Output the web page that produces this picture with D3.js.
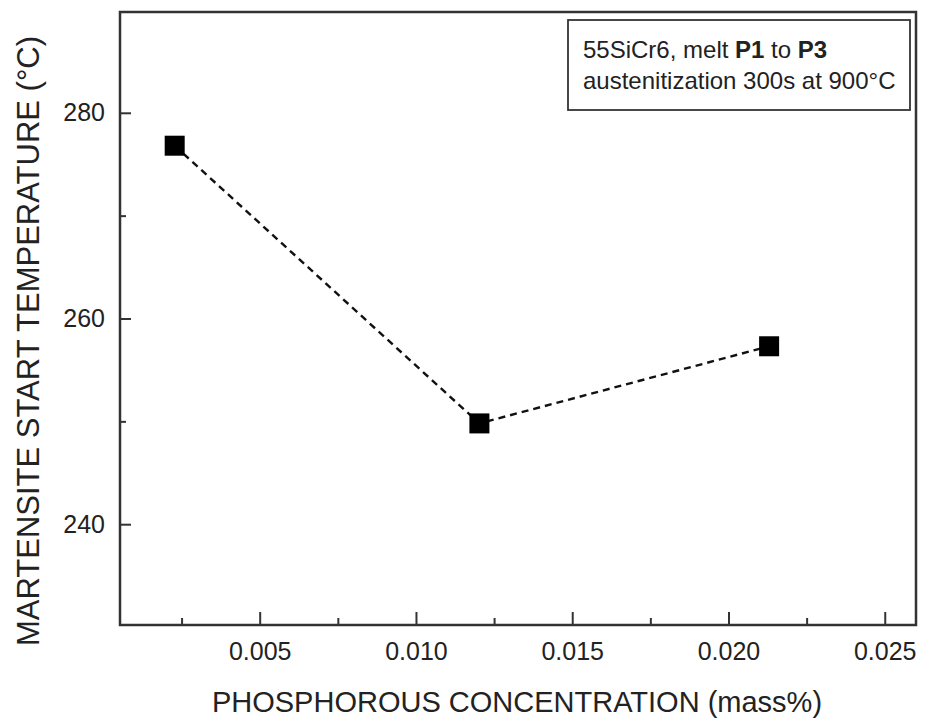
<!DOCTYPE html>
<html>
<head>
<meta charset="utf-8">
<script src="https://cdn.jsdelivr.net/npm/d3@7"></script>
<style>
  html, body { margin: 0; padding: 0; background: #fff; }
  svg { display: block; font-family: "Liberation Sans", Arial, Helvetica, sans-serif; }
</style>
</head>
<body>
<svg id="chart" width="925" height="722"></svg>
<script>
// Phosphorus content of melts P1..P3 and measured Ms temperature
const melts = ["P1", "P2", "P3"];
const phosphorus = [0.00228, 0.01203, 0.02130];
const msTemp = [276.8, 249.8, 257.3];

const xMajorTicks = [0.005, 0.010, 0.015, 0.020, 0.025];
const xMinorTicks = [0.0025, 0.0075, 0.0125, 0.0175, 0.0225];
const yMajorTicks = [240, 260, 280];
const yMinorTicks = [250, 270];

const xTitle = "PHOSPHOROUS CONCENTRATION (mass%)";
const yTitle = "MARTENSITE START TEMPERATURE (°C)";

const svg = d3.select("#chart");
const plotL = 120, plotR = 916, plotT = 12, plotB = 625;

const x = d3.scaleLinear().domain([0.00053, 0.0260]).range([plotL, plotR]);
const y = d3.scaleLinear().domain([230.2, 289.8]).range([plotB, plotT]);

const axisColor = "#333";
const fontStack = "'Liberation Sans', Arial, sans-serif";

// minor ticks (no labels)
svg.append("g")
  .attr("transform", `translate(0,${plotB})`)
  .call(d3.axisBottom(x).tickValues(xMinorTicks).tickSize(-7).tickFormat(""))
  .call(g => g.select(".domain").remove())
  .call(g => g.selectAll("line").attr("stroke", axisColor).attr("stroke-width", 2));

svg.append("g")
  .attr("transform", `translate(${plotL},0)`)
  .call(d3.axisLeft(y).tickValues(yMinorTicks).tickSize(-6).tickFormat(""))
  .call(g => g.select(".domain").remove())
  .call(g => g.selectAll("line").attr("stroke", axisColor).attr("stroke-width", 2));

// major ticks with labels
svg.append("g")
  .attr("transform", `translate(0,${plotB})`)
  .call(d3.axisBottom(x).tickValues(xMajorTicks).tickSize(-13).tickPadding(17).tickFormat(d3.format(".3f")))
  .call(g => g.select(".domain").remove())
  .call(g => g.selectAll("line").attr("stroke", axisColor).attr("stroke-width", 2))
  .call(g => g.selectAll("text").attr("font-size", 25).attr("fill", "#222")
    .attr("font-family", fontStack));

svg.append("g")
  .attr("transform", `translate(${plotL},0)`)
  .call(d3.axisLeft(y).tickValues(yMajorTicks).tickSize(-11).tickPadding(15).tickFormat(d3.format("d")))
  .call(g => g.select(".domain").remove())
  .call(g => g.selectAll("line").attr("stroke", axisColor).attr("stroke-width", 2))
  .call(g => g.selectAll("text").attr("font-size", 25).attr("fill", "#222")
    .attr("font-family", fontStack));

// plot frame
svg.append("rect")
  .attr("x", plotL).attr("y", plotT)
  .attr("width", plotR - plotL).attr("height", plotB - plotT)
  .attr("fill", "none").attr("stroke", axisColor).attr("stroke-width", 2.5);

// axis titles
svg.append("text")
  .attr("x", 517).attr("y", 712)
  .attr("text-anchor", "middle")
  .attr("font-size", 29).attr("fill", "#222")
  .text(xTitle);

svg.append("text")
  .attr("transform", "translate(39,341) rotate(-90)")
  .attr("text-anchor", "middle")
  .attr("font-size", 31).attr("fill", "#222")
  .text(yTitle);

// dashed connecting line
const pts = phosphorus.map((p, i) => ({ p, t: msTemp[i], name: melts[i] }));
svg.append("path")
  .datum(pts)
  .attr("d", d3.line().x(d => x(d.p)).y(d => y(d.t)))
  .attr("fill", "none").attr("stroke", "#111")
  .attr("stroke-width", 2.4).attr("stroke-dasharray", "7,5");

// square markers
const size = 20;
svg.append("g").selectAll("rect")
  .data(pts).join("rect")
  .attr("x", d => x(d.p) - size / 2)
  .attr("y", d => y(d.t) - size / 2)
  .attr("width", size).attr("height", size)
  .attr("fill", "#000");

// annotation box
const box = svg.append("g");
box.append("rect")
  .attr("x", 568).attr("y", 20).attr("width", 342).attr("height", 90)
  .attr("fill", "#fff").attr("stroke", axisColor).attr("stroke-width", 1.8);

const line1 = box.append("text")
  .attr("x", 583).attr("y", 58).attr("font-size", 24).attr("fill", "#222");
line1.append("tspan").text("55SiCr6, melt ");
line1.append("tspan").attr("font-weight", "bold").text(melts[0]);
line1.append("tspan").text(" to ");
line1.append("tspan").attr("font-weight", "bold").text(melts[2]);

box.append("text")
  .attr("x", 583).attr("y", 89).attr("font-size", 24).attr("fill", "#222")
  .text("austenitization 300s at 900°C");
</script>
</body>
</html>
